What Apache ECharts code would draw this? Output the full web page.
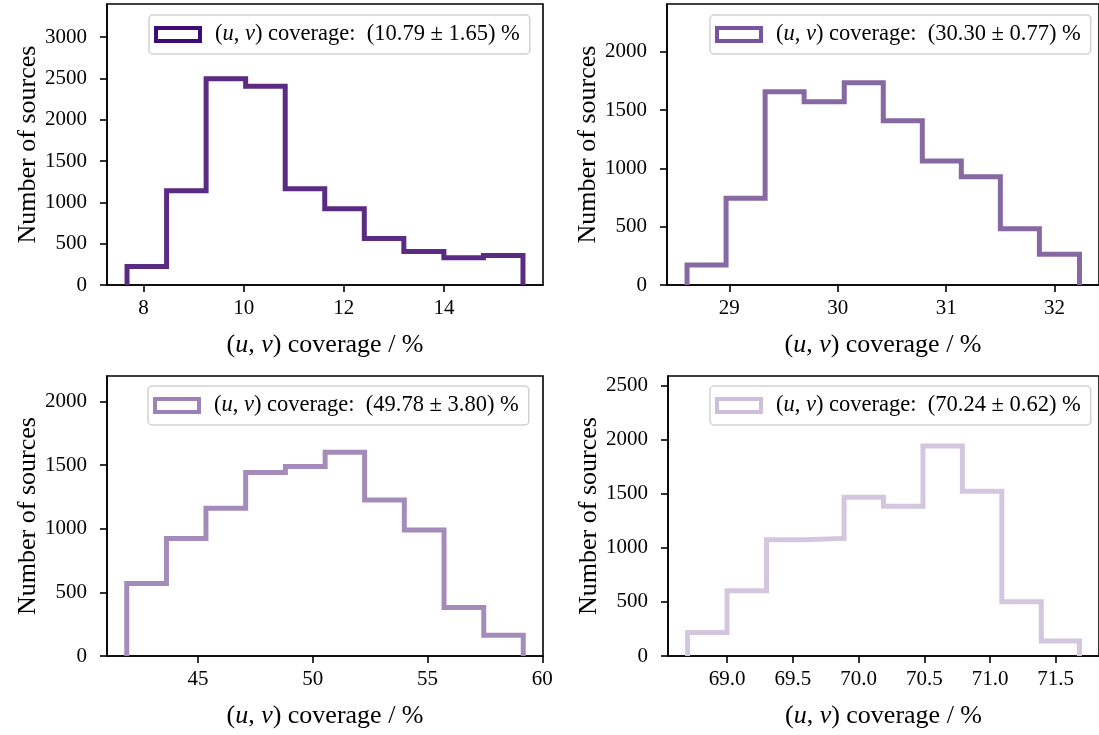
<!DOCTYPE html>
<html>
<head>
<meta charset="utf-8">
<script src="https://cdn.jsdelivr.net/npm/echarts@6/dist/echarts.min.js"></script>
<style>
html,body{margin:0;padding:0;background:#fff;}
#c{width:1099px;height:735px;}
</style>
</head>
<body>
<div id="c"></div>
<script>
// ---- data ----
const edges1 = [7.67, 8.46, 9.25, 10.04, 10.83, 11.62, 12.41, 13.20, 14.00, 14.79, 15.58];
const counts1 = [225, 1140, 2495, 2405, 1165, 922, 562, 404, 331, 356];
const edges2 = [28.61, 28.97, 29.33, 29.69, 30.06, 30.42, 30.78, 31.14, 31.50, 31.86, 32.23];
const counts2 = [171, 743, 1657, 1571, 1734, 1408, 1063, 928, 482, 263];
const edges3 = [41.90, 43.63, 45.35, 47.08, 48.81, 50.54, 52.26, 53.99, 55.72, 57.45, 59.17];
const counts3 = [570, 924, 1160, 1441, 1488, 1601, 1226, 990, 381, 163];
const edges4 = [68.70, 69.00, 69.30, 69.59, 69.89, 70.19, 70.49, 70.79, 71.09, 71.39, 71.68];
const counts4 = [217, 604, 1075, 1088, 1468, 1385, 1942, 1524, 502, 139];
const means = ['10.79', '30.30', '49.78', '70.24'];
const stds = ['1.65', '0.77', '3.80', '0.62'];
const xTicks1 = [8, 10, 12, 14];
const xTicks2 = [29, 30, 31, 32];
const xTicks3 = [45, 50, 55, 60];
const xTicks4 = [69.0, 69.5, 70.0, 70.5, 71.0, 71.5];
const xTickDecimals = [0, 0, 0, 1];
const xRanges = [[7.27, 15.98], [28.425, 32.41], [41.04, 60.03], [68.551, 71.829]];
const yMax = [3400, 2410, 2200, 2590];
const yInterval = 500;
const xName = '{p|(}{i|u}{p|, }{i|v}{p|) coverage / %}';
const yName = 'Number of sources';

// ---- styling ----
const lineColors = ['#5b2b83', '#8669a3', '#a48cba', '#d4c6de'];
const legendColors = ['#3e0b76', '#7654a0', '#9c82b8', '#cdbfdc'];
const FONT = 'Liberation Serif';
const grids = [
  {left: 107, top: 4, width: 436, height: 281},
  {left: 667, top: 4, width: 437, height: 281},
  {left: 107, top: 376, width: 436, height: 280},
  {left: 668, top: 376, width: 436, height: 280}
];
const legendPos = [[149, 15], [710, 15], [148, 386], [710, 386]];

const allEdges = [edges1, edges2, edges3, edges4];
const allCounts = [counts1, counts2, counts3, counts4];
const allTicks = [xTicks1, xTicks2, xTicks3, xTicks4];

function stepPoints(edges, counts) {
  const pts = [[edges[0], 0]];
  for (let i = 0; i < counts.length; i++) {
    pts.push([edges[i], counts[i]]);
    pts.push([edges[i + 1], counts[i]]);
  }
  pts.push([edges[edges.length - 1], 0]);
  return pts;
}

const option = {
  animation: false,
  backgroundColor: '#fff',
  grid: grids.map(g => Object.assign({show: true, borderColor: '#000', borderWidth: 1.6, backgroundColor: 'transparent'}, g)),
  xAxis: grids.map((g, i) => ({
    type: 'value', gridIndex: i,
    min: xRanges[i][0], max: xRanges[i][1],
    name: xName, nameLocation: 'middle', nameGap: 47,
    nameTextStyle: {fontFamily: FONT, fontSize: 26, color: '#000',
      rich: {
        p: {fontFamily: FONT, fontSize: 26, color: '#000'},
        i: {fontFamily: FONT, fontSize: 26, color: '#000', fontStyle: 'italic'}
      }},
    axisLine: {show: true, onZero: false, lineStyle: {color: '#000', width: 1.6}},
    axisTick: {show: true, length: 7, lineStyle: {color: '#000', width: 1.6}, customValues: allTicks[i]},
    axisLabel: {fontFamily: FONT, fontSize: 21, color: '#000', margin: 13, customValues: allTicks[i],
      formatter: v => Number(v).toFixed(xTickDecimals[i])},
    splitLine: {show: false}
  })),
  yAxis: grids.map((g, i) => ({
    type: 'value', gridIndex: i,
    min: 0, max: yMax[i], interval: yInterval,
    name: yName, nameLocation: 'middle', nameGap: 66,
    nameTextStyle: {fontFamily: FONT, fontSize: 26, color: '#000'},
    axisLine: {show: true, lineStyle: {color: '#000', width: 1.6}},
    axisTick: {show: true, length: 7, lineStyle: {color: '#000', width: 1.6}},
    axisLabel: {fontFamily: FONT, fontSize: 21, color: '#000', margin: 20, showMaxLabel: false,
      formatter: v => String(v)},
    splitLine: {show: false}
  })),
  legend: grids.map((g, i) => ({
    left: legendPos[i][0], top: legendPos[i][1],
    orient: 'vertical',
    padding: [8, 10, 8, 5],
    borderColor: '#d2d2d2', borderWidth: 1.5, borderRadius: 4,
    backgroundColor: 'rgba(255,255,255,0.8)',
    itemWidth: 44, itemHeight: 13,
    selectedMode: false,
    data: [{
      name: 'cov' + i, icon: 'rect',
      itemStyle: {color: '#fff', borderColor: legendColors[i], borderWidth: 4}
    }],
    formatter: () => '{q|(}{i|u}{p|, }{i|v}{p|) coverage:  (' + means[i] + ' ± ' + stds[i] + ') %}',
    textStyle: {
      fontFamily: FONT, fontSize: 22.5, color: '#000',
      rich: {
        q: {fontFamily: FONT, fontSize: 22.5, color: '#000', padding: [0, 0, 0, 10]},
        p: {fontFamily: FONT, fontSize: 22.5, color: '#000'},
        i: {fontFamily: FONT, fontSize: 22.5, color: '#000', fontStyle: 'italic'}
      }
    }
  })),
  series: grids.map((g, i) => ({
    name: 'cov' + i,
    type: 'line',
    xAxisIndex: i, yAxisIndex: i,
    data: stepPoints(allEdges[i], allCounts[i]),
    showSymbol: false, symbol: 'none',
    lineStyle: {color: lineColors[i], width: 5, join: 'miter', cap: 'butt'},
    itemStyle: {color: lineColors[i]},
    silent: true
  }))
};

const chart = echarts.init(document.getElementById('c'), null, {renderer: 'canvas'});
chart.setOption(option);
</script>
</body>
</html>
